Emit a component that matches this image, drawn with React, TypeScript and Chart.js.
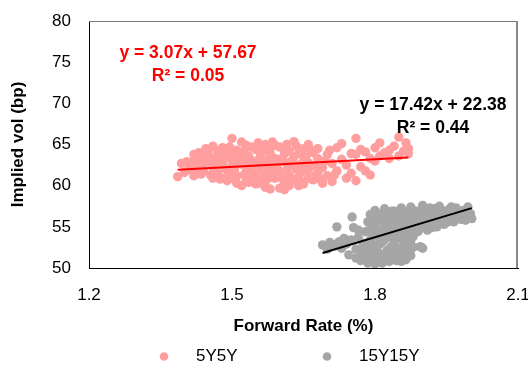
import { useEffect, useRef } from "react";
import { Chart, registerables } from "chart.js";

Chart.register(...registerables);

const FONT = '"Liberation Sans", Arial, Helvetica, sans-serif';

// Series names and colours
const seriesNames = ["5Y5Y", "15Y15Y"];
const seriesColors = ["#ff9e9e", "#a6a6a6"];
const fitColors = ["#ff0000", "#000000"];

// Forward rate (%) vs implied vol (bp), 5Y5Y
const points5y5y: [number, number][] = [
  [1.386, 61.1], [1.394, 62.7], [1.40, 61.6], [1.41, 62.3], [1.42, 63.0], [1.42, 61.2], [1.42, 63.8],
  [1.43, 62.5], [1.43, 64.0], [1.44, 63.5], [1.44, 61.8], [1.44, 62.6], [1.45, 64.2], [1.45, 62.9],
  [1.45, 63.7], [1.46, 60.9], [1.46, 62.2], [1.46, 64.8], [1.47, 63.6], [1.47, 61.5], [1.47, 62.6],
  [1.48, 64.6], [1.48, 62.8], [1.48, 60.9], [1.49, 60.6], [1.49, 61.9], [1.49, 63.9], [1.50, 65.75],
  [1.50, 63.2], [1.50, 62.4], [1.50, 60.9], [1.51, 64.3], [1.51, 61.2], [1.51, 60.3], [1.52, 63.8],
  [1.52, 62.6], [1.52, 65.3], [1.52, 60.0], [1.53, 64.9], [1.53, 61.7], [1.53, 60.8], [1.53, 62.9],
  [1.54, 63.1], [1.54, 62.1], [1.54, 64.7], [1.54, 60.5], [1.55, 64.4], [1.55, 61.0], [1.55, 60.2],
  [1.56, 63.6], [1.56, 62.8], [1.56, 61.9], [1.57, 65.0], [1.57, 61.5], [1.57, 60.5], [1.57, 63.0],
  [1.57, 59.8], [1.58, 64.0], [1.58, 62.3], [1.58, 61.0], [1.58, 63.7], [1.59, 63.3], [1.59, 60.9],
  [1.59, 64.9], [1.59, 62.0], [1.60, 64.7], [1.60, 61.8], [1.60, 59.7], [1.61, 62.9], [1.61, 60.4],
  [1.61, 63.9], [1.61, 64.5], [1.62, 64.2], [1.62, 61.3], [1.62, 62.5], [1.62, 60.0], [1.63, 65.35],
  [1.63, 63.5], [1.63, 60.8], [1.64, 62.5], [1.64, 61.0], [1.64, 63.9], [1.65, 64.5], [1.65, 63.0],
  [1.65, 60.2], [1.66, 61.9], [1.66, 62.8], [1.66, 65.0], [1.66, 60.9], [1.67, 64.0], [1.67, 60.7],
  [1.68, 63.3], [1.68, 61.5], [1.68, 64.5], [1.69, 62.2], [1.69, 60.3], [1.70, 63.8], [1.70, 61.2],
  [1.405, 62.9], [1.415, 61.9], [1.425, 62.2], [1.435, 63.2], [1.435, 61.4], [1.445, 64.5], [1.455, 61.3],
  [1.455, 63.3], [1.465, 62.9], [1.465, 61.8], [1.475, 64.2], [1.475, 60.8], [1.485, 63.3], [1.485, 62.1],
  [1.495, 64.7], [1.495, 61.4], [1.505, 62.0], [1.505, 64.0], [1.515, 62.8], [1.515, 63.5], [1.525, 61.3],
  [1.525, 64.2], [1.535, 63.6], [1.535, 60.4], [1.545, 62.6], [1.545, 61.5], [1.555, 63.1], [1.555, 65.2],
  [1.565, 62.3], [1.565, 64.3], [1.565, 60.9], [1.575, 62.7], [1.575, 64.6], [1.585, 61.5], [1.585, 65.3],
  [1.595, 62.6], [1.595, 61.3], [1.605, 63.3], [1.605, 60.9], [1.615, 61.9], [1.615, 65.0], [1.625, 63.0],
  [1.625, 60.6], [1.635, 62.0], [1.635, 64.8], [1.645, 61.6], [1.645, 60.4], [1.655, 63.5], [1.655, 62.3],
  [1.665, 64.3], [1.675, 62.4], [1.675, 61.2], [1.685, 60.8], [1.695, 63.0], [1.705, 64.3], [1.715, 61.3],
  [1.50, 61.7], [1.56, 60.3], [1.60, 63.1], [1.64, 60.0], [1.47, 64.0], [1.53, 63.4], [1.58, 59.6],
  [1.61, 59.5],
  [1.71, 62.7], [1.71, 60.5], [1.72, 64.6], [1.72, 61.8], [1.73, 63.2], [1.73, 65.1], [1.74, 60.9],
  [1.74, 62.5], [1.75, 61.5], [1.75, 63.9], [1.76, 65.75], [1.76, 63.8], [1.76, 60.6], [1.77, 62.3],
  [1.77, 64.4], [1.78, 64.1], [1.78, 61.8], [1.79, 63.3], [1.79, 61.3], [1.80, 64.6], [1.80, 63.0],
  [1.81, 65.2], [1.81, 63.6], [1.82, 64.0], [1.83, 64.3], [1.83, 63.3], [1.84, 64.8], [1.85, 63.6],
  [1.85, 65.9], [1.86, 64.2], [1.865, 65.2], [1.87, 64.5], [1.87, 63.9],
];

// Forward rate (%) vs implied vol (bp), 15Y15Y
const points15y15y: [number, number][] = [
  [1.69, 52.8], [1.70, 52.3], [1.705, 53.1], [1.715, 52.7], [1.72, 55.0], [1.725, 53.2], [1.73, 52.4],
  [1.735, 53.6], [1.74, 52.9], [1.745, 51.6], [1.75, 53.4], [1.752, 56.2], [1.755, 54.9], [1.76, 52.3],
  [1.76, 51.2], [1.765, 53.7], [1.77, 52.0], [1.77, 50.9], [1.775, 53.0], [1.78, 51.5], [1.78, 54.4],
  [1.785, 50.6], [1.79, 52.2], [1.79, 53.4], [1.795, 51.1], [1.80, 52.7], [1.80, 50.5], [1.805, 53.8],
  [1.81, 51.7], [1.81, 52.9], [1.815, 50.6], [1.82, 53.4], [1.82, 51.3], [1.825, 52.1], [1.83, 50.8],
  [1.83, 53.9], [1.835, 52.6], [1.84, 51.4], [1.84, 53.1], [1.845, 50.9], [1.85, 52.2], [1.85, 53.7],
  [1.855, 51.6], [1.86, 52.8], [1.865, 51.0], [1.87, 53.4], [1.87, 52.0], [1.875, 51.5],
  [1.795, 53.9], [1.81, 53.6], [1.825, 54.6], [1.845, 54.3], [1.865, 53.9], [1.875, 53.0], [1.88, 53.8],
  [1.89, 54.4], [1.90, 52.4], [1.895, 52.6],
  [1.785, 55.6], [1.79, 56.5], [1.79, 54.7], [1.80, 55.2], [1.80, 57.0], [1.81, 56.1], [1.81, 54.4],
  [1.815, 55.7], [1.82, 57.2], [1.82, 54.9], [1.83, 56.4], [1.83, 55.3], [1.835, 54.1], [1.84, 56.9],
  [1.84, 55.7], [1.85, 54.7], [1.85, 56.3], [1.855, 57.3], [1.86, 55.4], [1.86, 54.1], [1.865, 56.8],
  [1.87, 55.9], [1.87, 54.7], [1.875, 57.4], [1.88, 56.3], [1.88, 55.1], [1.885, 54.4], [1.89, 56.9],
  [1.89, 55.6], [1.895, 54.8], [1.90, 57.6], [1.90, 56.2], [1.905, 55.3], [1.91, 57.0], [1.91, 54.6],
  [1.915, 56.0], [1.92, 55.4], [1.925, 57.2], [1.93, 56.4], [1.93, 55.0], [1.935, 57.5], [1.94, 55.8],
  [1.945, 56.8], [1.95, 55.5], [1.955, 57.1], [1.96, 56.2], [1.965, 55.6], [1.97, 57.3], [1.975, 56.5],
  [1.98, 55.9], [1.985, 57.0], [1.99, 56.3], [1.995, 57.4], [2.0, 56.6], [2.003, 56.0], [1.95, 56.3],
  [1.92, 56.6],
  [1.785, 53.0], [1.79, 51.4], [1.795, 55.1], [1.80, 56.2], [1.805, 52.0], [1.805, 54.6], [1.815, 51.1],
  [1.815, 53.1], [1.815, 56.6], [1.825, 50.9], [1.825, 53.7], [1.825, 55.8], [1.835, 51.5], [1.835, 55.0],
  [1.835, 56.9], [1.845, 52.4], [1.845, 53.6], [1.845, 55.2], [1.855, 50.8], [1.855, 54.0], [1.855, 56.0],
  [1.86, 53.3], [1.865, 52.3], [1.865, 55.1], [1.87, 56.6], [1.875, 54.3], [1.88, 52.5], [1.88, 57.0],
  [1.885, 55.7], [1.895, 56.2], [1.90, 55.0], [1.905, 56.8], [1.91, 55.8], [1.915, 57.3], [1.92, 54.9],
  [1.925, 56.1], [1.935, 56.0], [1.94, 57.0], [1.945, 55.3], [1.955, 56.5], [1.96, 57.4], [1.97, 56.0],
  [1.98, 56.8], [1.99, 55.8], [1.795, 52.5], [1.775, 52.4], [1.765, 54.6], [1.74, 53.4], [1.71, 52.9],
  [1.83, 52.3], [1.85, 51.0], [1.81, 50.9], [1.86, 51.8],
];

// Linear fits: y = slope * x + intercept
const fitSlopes = [3.07, 17.42];
const fitIntercepts = [57.67, 22.38];
const fitR2 = [0.05, 0.44];

// Axis ticks
const xTicks = [1.2, 1.5, 1.8, 2.1];
const yTicks = [50, 55, 60, 65, 70, 75, 80];

const allSeries = [points5y5y, points15y15y];

function fitLine(pts: [number, number][], i: number) {
  const xs = pts.map((p) => p[0]);
  const x0 = Math.min(...xs);
  const x1 = Math.max(...xs);
  return [
    { x: x0, y: fitSlopes[i] * x0 + fitIntercepts[i] },
    { x: x1, y: fitSlopes[i] * x1 + fitIntercepts[i] },
  ];
}

function equationText(i: number) {
  return `y = ${fitSlopes[i].toFixed(2)}x + ${fitIntercepts[i].toFixed(2)}`;
}

// Equation labels, placed relative to the plot area
const labelPlugin = {
  id: "fitLabels",
  afterDraw(chart: any) {
    const { ctx, chartArea } = chart;
    const spots = [
      { cx: chartArea.left + 99, cy: chartArea.top + 32 },
      { cx: chartArea.left + 344, cy: chartArea.top + 84 },
    ];
    ctx.save();
    ctx.font = `bold 17.5px ${FONT}`;
    ctx.textAlign = "center";
    ctx.textBaseline = "middle";
    spots.forEach((s, i) => {
      ctx.fillStyle = fitColors[i];
      ctx.fillText(equationText(i), s.cx, s.cy);
      ctx.fillText(`R² = ${fitR2[i].toFixed(2)}`, s.cx, s.cy + 23);
    });
    ctx.restore();
  },
};

// Top and right frame of the plot area
const framePlugin = {
  id: "plotFrame",
  afterDraw(chart: any) {
    const { ctx, chartArea } = chart;
    ctx.save();
    ctx.strokeStyle = "#7a7a7a";
    ctx.lineWidth = 1;
    ctx.beginPath();
    ctx.moveTo(chartArea.left, chartArea.top + 0.5);
    ctx.lineTo(chartArea.right, chartArea.top + 0.5);
    ctx.stroke();
    ctx.strokeStyle = "#8a8a8a";
    ctx.lineWidth = 2;
    ctx.beginPath();
    ctx.moveTo(chartArea.right - 1, chartArea.top);
    ctx.lineTo(chartArea.right - 1, chartArea.bottom);
    ctx.stroke();
    ctx.restore();
  },
};

// Legend under the axis title
const legendPlugin = {
  id: "bottomLegend",
  afterDraw(chart: any) {
    const { ctx } = chart;
    const y = chart.height - 8.5;
    const markers = [164, 327];
    ctx.save();
    ctx.font = `17px ${FONT}`;
    ctx.textAlign = "left";
    ctx.textBaseline = "middle";
    seriesNames.forEach((name, i) => {
      ctx.fillStyle = seriesColors[i];
      ctx.beginPath();
      ctx.arc(markers[i], y, 4.3, 0, Math.PI * 2);
      ctx.fill();
      ctx.fillStyle = "#000";
      ctx.fillText(name, markers[i] + 32, y);
    });
    ctx.restore();
  },
};

export default function App() {
  const canvasRef = useRef<HTMLCanvasElement | null>(null);

  useEffect(() => {
    document.body.style.margin = "0";
    const canvas = canvasRef.current;
    if (!canvas) return;

    const scatterSets = allSeries.map((pts, i) => ({
      label: seriesNames[i],
      data: pts.map(([x, y]) => ({ x, y })),
      backgroundColor: seriesColors[i],
      borderWidth: 0,
      pointBorderWidth: 0,
      pointRadius: 4.7,
      pointHoverRadius: 4.7,
      showLine: false,
      order: 2,
    }));
    const fitSets = allSeries.map((pts, i) => ({
      label: `${seriesNames[i]} fit`,
      data: fitLine(pts, i),
      borderColor: fitColors[i],
      borderWidth: 2,
      pointRadius: 0,
      showLine: true,
      fill: false,
      order: 1,
    }));

    const chart = new Chart(canvas, {
      type: "scatter",
      data: { datasets: [...scatterSets, ...fitSets] as any },
      options: {
        animation: false,
        responsive: false,
        layout: { padding: { left: 0, right: 10, top: 21, bottom: 28 } },
        plugins: {
          legend: { display: false },
          tooltip: { enabled: false },
        },
        scales: {
          x: {
            type: "linear",
            min: xTicks[0],
            max: xTicks[xTicks.length - 1],
            afterBuildTicks: (s: any) => {
              s.ticks = xTicks.map((v) => ({ value: v }));
            },
            afterFit: (s: any) => {
              s.height = 69;
              s.paddingLeft = 0;
              s.paddingRight = 0;
            },
            grid: { display: true, drawOnChartArea: false, drawTicks: false },
            border: { display: true, color: "#000", width: 1 },
            ticks: {
              padding: 17,
              color: "#000",
              font: { family: FONT, size: 17 },
              callback: (v: any) => Number(v).toFixed(1),
            },
            title: {
              display: true,
              text: "Forward Rate (%)",
              color: "#000",
              font: { family: FONT, size: 17, weight: "bold" },
              padding: { top: 0, bottom: 0 },
            },
          },
          y: {
            type: "linear",
            min: yTicks[0],
            max: yTicks[yTicks.length - 1],
            afterBuildTicks: (s: any) => {
              s.ticks = yTicks.map((v) => ({ value: v }));
            },
            afterFit: (s: any) => {
              s.width = 89;
              s.paddingTop = 0;
              s.paddingBottom = 0;
            },
            grid: { display: true, drawOnChartArea: false, drawTicks: false },
            border: { display: true, color: "#000", width: 1 },
            ticks: {
              padding: 18,
              color: "#000",
              font: { family: FONT, size: 17 },
              callback: (v: any) => String(v),
            },
            title: {
              display: true,
              text: "Implied vol (bp)",
              color: "#000",
              font: { family: FONT, size: 17, weight: "bold" },
              padding: { top: 8, bottom: 0 },
            },
          },
        },
      },
      plugins: [labelPlugin, framePlugin, legendPlugin],
    });

    return () => chart.destroy();
  }, []);

  return (
    <div style={{ width: 528, height: 365 }}>
      <canvas ref={canvasRef} width={528} height={365} style={{ display: "block" }} />
    </div>
  );
}
